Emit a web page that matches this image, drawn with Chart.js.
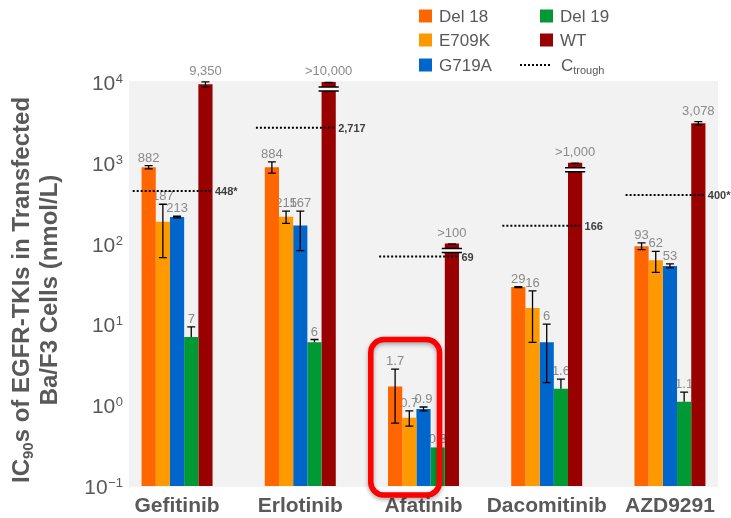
<!DOCTYPE html>
<html>
<head>
<meta charset="utf-8">
<script src="https://cdn.jsdelivr.net/npm/chart.js@4/dist/chart.umd.min.js"></script>
<style>
  html, body { margin: 0; padding: 0; background: #ffffff; }
  #wrap { width: 731px; height: 518px; }
</style>
</head>
<body>
<div id="wrap"><canvas id="c" width="731" height="518"></canvas></div>
<script>
// IC90 values (nmol/L) of EGFR-TKIs in transfected Ba/F3 cells
const drugs = ['Gefitinib', 'Erlotinib', 'Afatinib', 'Dacomitinib', 'AZD9291'];
const seriesNames = ['Del 18', 'E709K', 'G719A', 'Del 19', 'WT'];

const del18 = [882, 884, 1.7, 29, 93];
const e709k = [187, 215, 0.7, 16, 62];
const g719a = [213, 167, 0.9, 6, 53];
const del19 = [7, 6, 0.3, 1.6, 1.1];
const wt    = [9350, 10000, 100, 1000, 3078];
const wtLabels = ['9,350', '>10,000', '>100', '>1,000', '3,078'];

// error bars as [minus, plus]
const errDel18 = [[40, 40], [140, 140], [1.1, 1.1], [0.4, 0.4], [9, 9]];
const errE709k = [[120, 120], [37, 37], [0.15, 0.15], [10, 10], [18, 18]];
const errG719a = [[5, 5], [85, 85], [0.05, 0.05], [4.1, 4.1], [3, 3]];
const errDel19 = [[0, 2.3], [0, 0.5], [0, 0], [0, 0.5], [0, 0.35]];
const errWt    = [[700, 700], [0, 0], [0, 0], [0, 0], [150, 150]];

// trough plasma concentrations
const ctrough = [448, 2717, 69, 166, 400];
const ctroughLabels = ['448*', '2,717', '69', '166', '400*'];

// powers of ten shown on the y axis
const yExponents = [4, 3, 2, 1, 0, -1];

const colors = ['#ff6600', '#ff9900', '#0066cc', '#009933', '#990000'];
const seriesValues = [del18, e709k, g719a, del19, wt];
const seriesErr = [errDel18, errE709k, errG719a, errDel19, errWt];
const seriesLabels = [
  del18.map(String), e709k.map(String), g719a.map(String), del19.map(String), wtLabels
];

const FONT = "'Liberation Sans', Arial, sans-serif";
Chart.defaults.font.family = FONT;

const datasets = seriesValues.map((vals, k) => ({
  type: 'bar',
  label: seriesNames[k],
  data: vals.map((v, i) => ({ x: i, y: v })),
  backgroundColor: colors[k],
  borderWidth: 0,
  categoryPercentage: 0.576,
  barPercentage: 1.0
}));

datasets.push({
  type: 'line',
  label: 'Ctrough',
  order: -1,
  data: ctrough.flatMap((v, i) => [
    { x: i - 0.36, y: v }, { x: i + 0.275, y: v }, { x: i + 0.5, y: null }
  ]),
  borderColor: '#000000',
  borderWidth: 2,
  borderDash: [2, 2],
  pointRadius: 0,
  spanGaps: false,
  fill: false
});

// plot background, value labels under the bars
const backPlugin = {
  id: 'back',
  beforeDatasetsDraw(chart) {
    const { ctx, chartArea: a, scales: { y } } = chart;
    ctx.save();
    ctx.fillStyle = '#f2f2f2';
    ctx.fillRect(a.left, a.top - 1, a.right - a.left, a.bottom - a.top + 2);

    ctx.font = '13px ' + FONT;
    ctx.fillStyle = '#8a8a8a';
    ctx.textAlign = 'center';
    ctx.textBaseline = 'alphabetic';
    seriesValues.forEach((vals, k) => {
      const meta = chart.getDatasetMeta(k);
      vals.forEach((v, i) => {
        const el = meta.data[i];
        const plus = seriesErr[k][i][1];
        let top = el.y;
        if (plus > 0) top = Math.min(top, y.getPixelForValue(v + plus));
        const isWt = k === 4;
        ctx.fillText(seriesLabels[k][i], el.x, top - (isWt ? 7 : 4));
      });
    });
    ctx.restore();
  }
};

// error bars, axis breaks, ctrough labels, highlight box, axes text, legend
const frontPlugin = {
  id: 'front',
  afterDatasetsDraw(chart) {
    const { ctx, chartArea: a, scales: { x, y } } = chart;
    ctx.save();

    // error bars
    ctx.strokeStyle = '#000000';
    ctx.lineWidth = 1.3;
    seriesValues.forEach((vals, k) => {
      const meta = chart.getDatasetMeta(k);
      vals.forEach((v, i) => {
        const [minus, plus] = seriesErr[k][i];
        if (minus <= 0 && plus <= 0) return;
        const cx = meta.data[i].x;
        const yTop = y.getPixelForValue(v + plus);
        const yBot = y.getPixelForValue(Math.max(v - minus, 0.1));
        ctx.beginPath();
        ctx.moveTo(cx, yTop); ctx.lineTo(cx, yBot);
        ctx.moveTo(cx - 4, yTop); ctx.lineTo(cx + 4, yTop);
        if (minus > 0) { ctx.moveTo(cx - 4, yBot); ctx.lineTo(cx + 4, yBot); }
        ctx.stroke();
      });
    });

    // axis-break marks on bars whose value is a lower bound
    const wtMeta = chart.getDatasetMeta(4);
    wtLabels.forEach((lab, i) => {
      if (!lab.startsWith('>')) return;
      const el = wtMeta.data[i];
      const half = el.width / 2;
      ctx.strokeStyle = '#000000';
      ctx.lineWidth = 1.5;
      ctx.beginPath();
      ctx.moveTo(el.x - 4, el.y + 0.5); ctx.lineTo(el.x + 4, el.y + 0.5);
      ctx.stroke();
      ctx.fillStyle = '#ffffff';
      ctx.fillRect(el.x - half - 3, el.y + 5, el.width + 6, 4);
      ctx.beginPath();
      ctx.moveTo(el.x - half - 3, el.y + 5); ctx.lineTo(el.x + half + 3, el.y + 5);
      ctx.moveTo(el.x - half - 3, el.y + 9); ctx.lineTo(el.x + half + 3, el.y + 9);
      ctx.stroke();
    });

    // ctrough labels
    ctx.font = 'bold 11px ' + FONT;
    ctx.fillStyle = '#404040';
    ctx.textAlign = 'left';
    ctx.textBaseline = 'middle';
    ctrough.forEach((v, i) => {
      ctx.fillText(ctroughLabels[i], x.getPixelForValue(i + 0.275) + 4, y.getPixelForValue(v) + 1);
    });

    // highlight box round the afatinib mutant bars
    const bx0 = x.getPixelForValue(2 - 0.428);
    const bx1 = x.getPixelForValue(2 + 0.13);
    const by0 = y.getPixelForValue(6.5);
    const by1 = a.bottom + 9;
    ctx.shadowColor = 'rgba(0,0,0,0.35)';
    ctx.shadowBlur = 4;
    ctx.shadowOffsetY = 2;
    ctx.strokeStyle = '#ff0000';
    ctx.lineWidth = 5.5;
    ctx.beginPath();
    ctx.roundRect(bx0, by0, bx1 - bx0, by1 - by0, 13);
    ctx.stroke();
    ctx.restore();
  },
  afterDraw(chart) {
    const { ctx, chartArea: a, scales: { y } } = chart;
    ctx.save();

    // y tick labels 10^n
    ctx.fillStyle = '#595959';
    ctx.textBaseline = 'alphabetic';
    yExponents.forEach(e => {
      const py = y.getPixelForValue(Math.pow(10, e));
      const expText = e < 0 ? '\u2212' + Math.abs(e) : String(e);
      ctx.font = '13px ' + FONT;
      const ew = ctx.measureText(expText).width;
      const right = 123;
      ctx.textAlign = 'left';
      ctx.fillText(expText, right - ew, py + 1);
      ctx.font = '21px ' + FONT;
      ctx.textAlign = 'right';
      ctx.fillText('10', right - ew - 0.5, py + 8);
    });

    // y axis title (two lines, rotated, with subscript)
    const cy = (a.top + a.bottom) / 2 + 6;
    const big = 'bold 24px ' + FONT;
    const small = 'bold 15px ' + FONT;
    const parts1 = [['IC', big, 0], ['90', small, 7], ['s of EGFR-TKIs in Transfected', big, 0]];
    const drawLine = (parts, lx) => {
      let total = 0;
      parts.forEach(p => { ctx.font = p[1]; total += ctx.measureText(p[0]).width; });
      ctx.save();
      ctx.translate(lx, cy);
      ctx.rotate(-Math.PI / 2);
      ctx.textAlign = 'left';
      ctx.textBaseline = 'middle';
      let px = -total / 2;
      parts.forEach(p => {
        ctx.font = p[1];
        ctx.fillText(p[0], px, p[2]);
        px += ctx.measureText(p[0]).width;
      });
      ctx.restore();
    };
    ctx.fillStyle = '#595959';
    drawLine(parts1, 22);
    drawLine([['Ba/F3 Cells (nmol/L)', big, 0]], 50);

    // legend
    const rows = [16, 40, 65];
    ctx.font = '17px ' + FONT;
    ctx.textAlign = 'left';
    ctx.textBaseline = 'middle';
    const legendCells = [
      [0, 419, rows[0]], [1, 419, rows[1]], [2, 419, rows[2]],
      [3, 540, rows[0]], [4, 540, rows[1]]
    ];
    legendCells.forEach(([k, lx, ly]) => {
      ctx.fillStyle = colors[k];
      ctx.fillRect(lx, ly - 6.5, 13, 13);
      ctx.fillStyle = '#595959';
      ctx.fillText(seriesNames[k], lx + 20, ly + 1);
    });
    ctx.strokeStyle = '#000000';
    ctx.lineWidth = 2;
    ctx.setLineDash([2, 2]);
    ctx.beginPath();
    ctx.moveTo(520, rows[2]); ctx.lineTo(552, rows[2]);
    ctx.stroke();
    ctx.setLineDash([]);
    ctx.fillStyle = '#595959';
    ctx.font = '17px ' + FONT;
    ctx.fillText('C', 561, rows[2] + 1);
    const cw = ctx.measureText('C').width;
    ctx.font = '11px ' + FONT;
    ctx.fillText('trough', 561 + cw, rows[2] + 6);
    ctx.restore();
  }
};

new Chart(document.getElementById('c'), {
  data: { datasets },
  options: {
    responsive: false,
    animation: false,
    layout: { padding: { top: 82, right: 13, left: 0, bottom: 0 } },
    plugins: { legend: { display: false }, tooltip: { enabled: false } },
    scales: {
      x: {
        type: 'linear',
        offset: false,
        min: -0.39,
        max: 4.39,
        grid: { display: false, drawTicks: false, offset: false },
        border: { display: false },
        afterBuildTicks: s => { s.ticks = drugs.map((_, i) => ({ value: i })); },
        afterFit: s => { s.height = 32; },
        ticks: {
          autoSkip: false,
          maxRotation: 0,
          padding: 8,
          color: '#595959',
          font: { size: 21, weight: 'bold' },
          callback: v => drugs[v] ?? ''
        }
      },
      y: {
        type: 'logarithmic',
        min: 0.1,
        max: 10000,
        grid: { display: false, drawTicks: false },
        border: { display: false },
        ticks: { display: false },
        afterFit: s => { s.width = 129; }
      }
    }
  },
  plugins: [backPlugin, frontPlugin]
});
</script>
</body>
</html>
